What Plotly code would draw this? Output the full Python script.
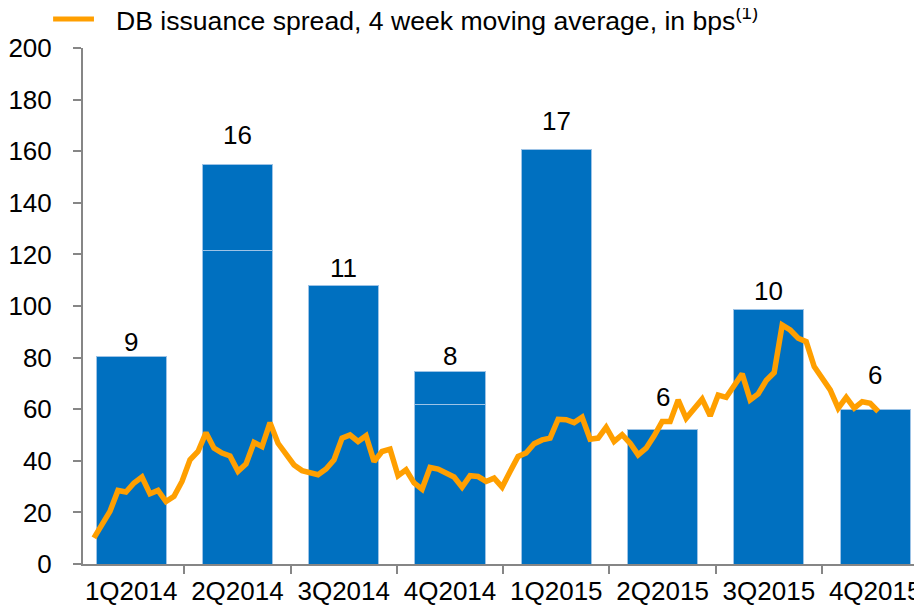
import plotly.graph_objects as go

quarters = ["1Q2014", "2Q2014", "3Q2014", "4Q2014", "1Q2015", "2Q2015", "3Q2015", "4Q2015"]
bar_base = [80.5, 121.6, 108.1, 61.9, 160.8, 52.0, 98.5, 59.7]
bar_top = [0, 33.3, 0, 12.9, 0, 0, 0, 0]
bar_labels = ["9", "16", "11", "8", "17", "6", "10", "6"]

spread = [
    10.1, 14.8, 20.4, 28.5, 27.9, 31.4, 33.7, 27.2, 28.5, 24.2, 26.2, 32.0, 40.4, 43.6, 50.9, 44.9, 43.0, 41.9,
    35.9, 38.8, 47.1, 45.5, 54.8, 46.8, 43.0, 38.4, 36.2, 35.5, 34.6, 36.8, 40.4, 48.8, 50.0, 47.5, 49.7, 39.7, 43.6,
    44.5, 34.2, 36.5, 31.4, 29.0, 37.4, 36.8, 35.2, 33.7, 29.8, 34.2, 33.9, 32.0, 33.3, 29.8, 35.9, 41.7, 43.0,
    46.6, 48.1, 48.8, 56.1, 55.9, 54.8, 56.9, 48.4, 48.8, 53.0, 47.5, 50.1, 46.8, 42.3, 44.9, 49.7, 55.2, 55.2,
    63.6, 56.5, 60.4, 63.9, 57.4, 65.5, 64.6, 69.4, 73.7, 63.6, 65.9, 71.1, 74.2, 92.6, 90.7, 87.5, 86.2, 76.5,
    72.0, 67.5, 60.4, 64.6, 60.4, 62.9, 62.3, 59.1,
]
weeks = list(range(len(spread)))
legend_text = "DB issuance spread, 4 week moving average, in bps<sup>(1)</sup>"

BLUE = "#0070C0"
EDGE = "#9DC3E6"
ORANGE = "#FF9F00"
GREY = "#868686"
FONT = "Liberation Sans, Arial, sans-serif"

# page body has an 8px offset; plot area spans page x 80..930, y 48..564
PLOT_W = 850.0
PLOT_H = 516.0

fig = go.Figure()
fig.add_trace(go.Bar(x=quarters, y=bar_base, marker=dict(color=BLUE, line=dict(color=EDGE, width=1)),
                     width=0.66, showlegend=False, hoverinfo="skip"))
fig.add_trace(go.Bar(x=quarters, y=bar_top, marker=dict(color=BLUE, line=dict(color=EDGE, width=1)),
                     width=0.66, showlegend=False, hoverinfo="skip"))
fig.add_trace(go.Scatter(x=weeks, y=spread, xaxis="x2", mode="lines",
                         line=dict(color=ORANGE, width=5.5), showlegend=False))

label_shift = [14, 29, 17, 15, 28, 33, 19, 35]
for q, b, t, lab, s in zip(quarters, bar_base, bar_top, bar_labels, label_shift):
    fig.add_annotation(x=q, y=b + t, text=lab, showarrow=False, yshift=s, yanchor="middle",
                       font=dict(size=26, color="black", family=FONT))

# legend
ly = 1 + (48 - 19) / PLOT_H
fig.add_shape(type="line", xref="paper", yref="paper", x0=(50 - 80) / PLOT_W, x1=(91 - 80) / PLOT_W,
              y0=ly, y1=ly, line=dict(color=ORANGE, width=5))
fig.add_annotation(xref="paper", yref="paper", x=(111 - 80) / PLOT_W, y=ly, xanchor="left", yanchor="middle",
                   text=legend_text, showarrow=False, font=dict(size=26.6, color="black", family=FONT))

fig.update_layout(
    width=922, height=607,
    margin=dict(l=72, r=0, t=40, b=51),
    plot_bgcolor="white", paper_bgcolor="white",
    barmode="stack", bargap=0.34,
    font=dict(family=FONT, size=26, color="black"),
    xaxis=dict(type="category", range=[-0.453, 7.516], tickson="boundaries", ticks="outside", ticklen=8,
               tickcolor=GREY, tickwidth=2, showline=True, linecolor=GREY, linewidth=2, showgrid=False,
               tickfont=dict(size=26), ticklabelstandoff=3),
    xaxis2=dict(overlaying="x", range=[-1.37, 104.47], visible=False, showgrid=False),
    yaxis=dict(range=[0, 200], dtick=20, ticks="outside", ticklen=8, tickcolor=GREY, tickwidth=2,
               showline=True, linecolor=GREY, linewidth=2, showgrid=False, zeroline=False,
               tickfont=dict(size=26), ticklabelstandoff=16),
)

fig.write_html("out.html")
